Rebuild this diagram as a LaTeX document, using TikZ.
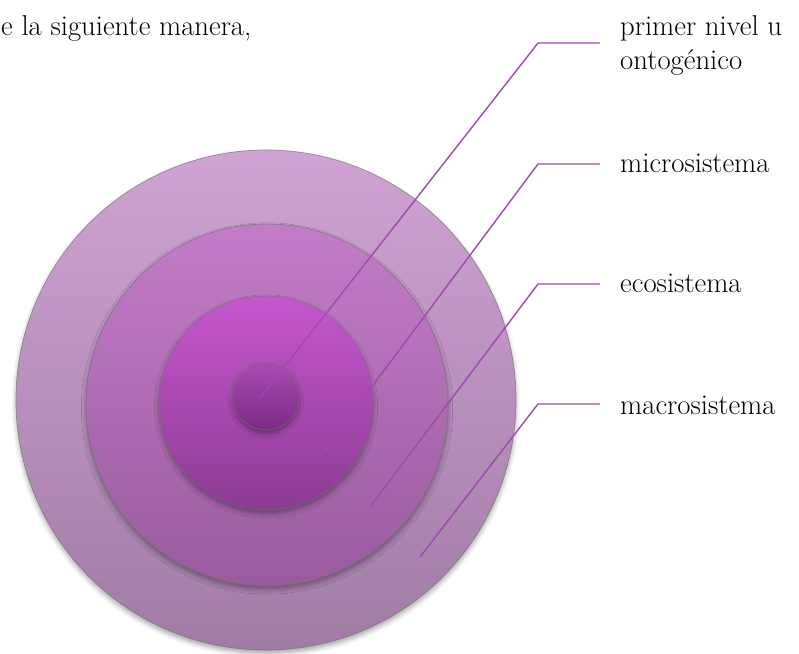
\documentclass[tikz,border=0pt]{standalone}
\usepackage{tikz}
\usetikzlibrary{shadows.blur}
\definecolor{leadpurple}{HTML}{A04AAE}
\definecolor{macrotop}{HTML}{CFA3D3}
\definecolor{macrobot}{HTML}{A07CA5}
\definecolor{ecotop}{HTML}{C47CC8}
\definecolor{ecobot}{HTML}{985C9D}
\definecolor{microtop}{HTML}{C657CE}
\definecolor{microbot}{HTML}{8B3B92}
\definecolor{ontotop}{HTML}{AA4AB2}
\definecolor{ontobot}{HTML}{7B2B84}

\begin{document}
\begin{tikzpicture}[x=0.03cm,y=-0.03cm,
  ring/.style={circle,draw=black!55,draw opacity=0.7,line width=0.6pt,inner sep=0pt,
    blur shadow={shadow xshift=0pt,shadow yshift=-3pt,shadow blur radius=4pt,shadow opacity=35}},
  leader/.style={draw=leadpurple,line width=1.2pt,line join=round},
  lbl/.style={font=\fontsize{24.5}{29.8}\selectfont,inner xsep=0.6cm,inner ysep=0pt,align=left}]
  \useasboundingbox (0,0) rectangle (799,654);
  % intro text
  \node[lbl,inner xsep=0pt,anchor=base west] (intro) at (1,36) {e la siguiente manera,};
  % rings, outside in
  \node[ring,minimum size=15cm,top color=macrotop,bottom color=macrobot] (macroring) at (266,400) {};
  \node[ring,minimum size=10.86cm,top color=ecotop,bottom color=ecobot] (ecoring) at (267,405) {};
  \node[ring,minimum size=6.42cm,top color=microtop,bottom color=microbot] (microring) at (266,403) {};
  \node[ring,minimum size=1.98cm,top color=ontotop,bottom color=ontobot] (ontoring) at (266,397) {};
  % labels
  \node[lbl,anchor=base west] (onto) at (600,70) {primer nivel u\\ontogénico};
  \node[lbl,anchor=base west] (micro) at (600,173) {microsistema};
  \node[lbl,anchor=base west] (eco) at (600,293) {ecosistema};
  \node[lbl,anchor=base west] (macro) at (600,415) {macrosistema};
  % leader ends and elbows
  \coordinate (e1) at (260,398);
  \coordinate (e2) at (321,455);
  \coordinate (e3) at (370,507);
  \coordinate (e4) at (420,557);
  \coordinate (k1) at (538,43);
  \coordinate (k2) at (538,164);
  \coordinate (k3) at (538,284);
  \coordinate (k4) at (538,404);
  % leaders
  \draw[leader] (e1) -- (k1) -- (k1 -| onto.west);
  \draw[leader] (e2) -- (k2) -- (k2 -| micro.west);
  \draw[leader] (e3) -- (k3) -- (k3 -| eco.west);
  \draw[leader] (e4) -- (k4) -- (k4 -| macro.west);
\end{tikzpicture}
\end{document}
